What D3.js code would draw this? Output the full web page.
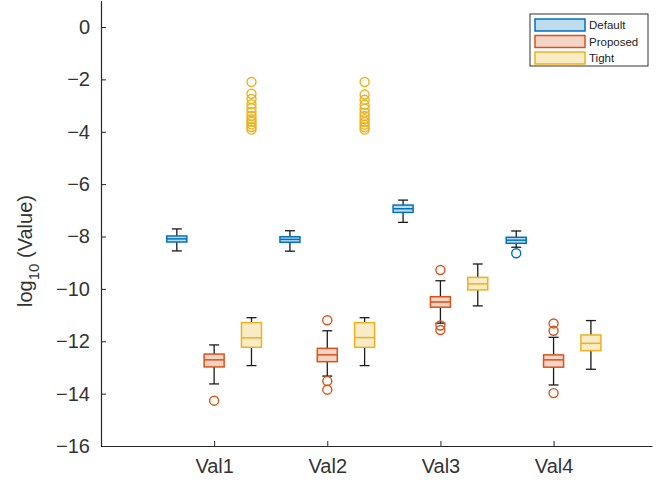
<!DOCTYPE html>
<html>
<head>
<meta charset="utf-8">
<script src="https://cdn.jsdelivr.net/npm/d3@7"></script>
<style>
  html, body { margin: 0; padding: 0; background: #fff; }
  svg { display: block; font-family: "Liberation Sans", Arial, sans-serif; }
</style>
</head>
<body>
<svg id="chart" width="660" height="487"></svg>
<script>
// Categories and series
const categories = ["Val1", "Val2", "Val3", "Val4"];
const seriesNames = ["Default", "Proposed", "Tight"];
const yTicks = [0, -2, -4, -6, -8, -10, -12, -14, -16];

// Box statistics per category: [lower whisker, Q1, median, Q3, upper whisker]
const defaultStats = [
  [-8.55, -8.21, -8.09, -7.98, -7.71],
  [-8.56, -8.22, -8.11, -8.01, -7.78],
  [-7.46, -7.08, -6.94, -6.80, -6.61],
  [-8.41, -8.26, -8.14, -8.03, -7.79]
];
const proposedStats = [
  [-13.63, -12.98, -12.71, -12.49, -12.14],
  [-13.33, -12.78, -12.52, -12.27, -11.60],
  [-11.31, -10.70, -10.50, -10.30, -9.69],
  [-13.67, -12.99, -12.71, -12.52, -11.85]
];
const tightStats = [
  [-12.93, -12.23, -11.87, -11.29, -11.10],
  [-12.93, -12.23, -11.86, -11.29, -11.10],
  [-10.65, -10.04, -9.81, -9.56, -9.05],
  [-13.07, -12.36, -12.08, -11.76, -11.21]
];

// Outliers per category
const defaultOutliers = [[], [], [], [-8.64]];
const proposedOutliers = [
  [-14.27],
  [-11.20, -13.52, -13.85],
  [-9.28, -11.40, -11.57],
  [-11.32, -11.60, -13.98]
];
const tightOutliers = [
  [-2.10, -2.55, -2.75, -2.95, -3.10, -3.25, -3.40, -3.52, -3.62, -3.72, -3.82, -3.92],
  [-2.10, -2.58, -2.78, -2.97, -3.12, -3.27, -3.40, -3.52, -3.63, -3.73, -3.83, -3.92],
  [],
  []
];

const seriesStats = [defaultStats, proposedStats, tightStats];
const seriesOutliers = [defaultOutliers, proposedOutliers, tightOutliers];
const seriesColors = ["#0072BD", "#D95319", "#EDB120"];
const seriesOffsets = [-0.33, 0, 0.33];

const svg = d3.select("#chart");
const axisColor = "#262626";

const x = d3.scaleLinear().domain([0, 4.87]).range([101, 652]);
const y = d3.scaleLinear().domain([-16, 1]).range([446, 446 - 17 * 26.1875]);

const boxHalf = 10;   // half box width in px
const capHalf = 5;    // half whisker cap width in px

// Boxes
seriesNames.forEach((name, s) => {
  const color = seriesColors[s];
  const g = svg.append("g").attr("class", "series-" + name);
  categories.forEach((cat, i) => {
    const [lo, q1, med, q3, hi] = seriesStats[s][i];
    const cx = x(i + 1 + seriesOffsets[s]);
    // whiskers
    g.append("line").attr("x1", cx).attr("x2", cx).attr("y1", y(q3)).attr("y2", y(hi))
      .attr("stroke", "#1a1a1a").attr("stroke-width", 1.3);
    g.append("line").attr("x1", cx).attr("x2", cx).attr("y1", y(q1)).attr("y2", y(lo))
      .attr("stroke", "#1a1a1a").attr("stroke-width", 1.3);
    g.append("line").attr("x1", cx - capHalf).attr("x2", cx + capHalf).attr("y1", y(hi)).attr("y2", y(hi))
      .attr("stroke", "#1a1a1a").attr("stroke-width", 1.3);
    g.append("line").attr("x1", cx - capHalf).attr("x2", cx + capHalf).attr("y1", y(lo)).attr("y2", y(lo))
      .attr("stroke", "#1a1a1a").attr("stroke-width", 1.3);
    // box
    g.append("rect")
      .attr("x", cx - boxHalf).attr("width", boxHalf * 2)
      .attr("y", y(q3)).attr("height", y(q1) - y(q3))
      .attr("fill", color).attr("fill-opacity", 0.25)
      .attr("stroke", color).attr("stroke-width", 1.5);
    // median
    g.append("line").attr("x1", cx - boxHalf).attr("x2", cx + boxHalf)
      .attr("y1", y(med)).attr("y2", y(med))
      .attr("stroke", color).attr("stroke-width", 1.5);
    // outliers
    g.selectAll(null).data(seriesOutliers[s][i]).enter().append("circle")
      .attr("cx", cx).attr("cy", d => y(d)).attr("r", 4.5)
      .attr("fill", "none").attr("stroke", color).attr("stroke-width", 1.4);
  });
});

// Axes
const yAxis = d3.axisLeft(y).tickValues(yTicks).tickSizeInner(-5).tickSizeOuter(0)
  .tickFormat(d => d < 0 ? "\u2212" + Math.abs(d) : d);
const gy = svg.append("g").attr("transform", `translate(${x(0)},0)`).call(yAxis);
gy.select(".domain").attr("stroke", axisColor).attr("stroke-width", 1.2);
gy.selectAll(".tick line").attr("stroke", axisColor);
gy.selectAll(".tick text").attr("x", -11).attr("fill", "#333").attr("font-size", 20)
  .attr("font-family", "'Liberation Sans', Arial, sans-serif");

const xAxis = d3.axisBottom(x).tickValues([1, 2, 3, 4]).tickSizeInner(-5).tickSizeOuter(0)
  .tickFormat((d, i) => categories[i]);
const gx = svg.append("g").attr("transform", `translate(0,${y(-16)})`).call(xAxis);
gx.select(".domain").attr("stroke", axisColor).attr("stroke-width", 1.2);
gx.selectAll(".tick line").attr("stroke", axisColor);
gx.selectAll(".tick text").attr("y", 13).attr("fill", "#333").attr("font-size", 20)
  .attr("font-family", "'Liberation Sans', Arial, sans-serif");

// Y axis label
const yl = svg.append("text")
  .attr("transform", "translate(32,251) rotate(-90)")
  .attr("text-anchor", "middle").attr("fill", "#333").attr("font-size", 20);
yl.append("tspan").text("log");
yl.append("tspan").attr("dy", 7).attr("font-size", 15).text("10");
yl.append("tspan").attr("dy", -7).text(" (Value)");

// Legend
const legend = svg.append("g").attr("class", "legend");
legend.append("rect").attr("x", 530).attr("y", 14).attr("width", 118).attr("height", 52)
  .attr("fill", "#fff").attr("stroke", "#333").attr("stroke-width", 1);
seriesNames.forEach((name, s) => {
  const cy = 25 + s * 16.5;
  legend.append("rect").attr("x", 535).attr("y", cy - 6).attr("width", 50).attr("height", 12)
    .attr("fill", seriesColors[s]).attr("fill-opacity", 0.25)
    .attr("stroke", seriesColors[s]).attr("stroke-width", 1.5);
  legend.append("text").attr("x", 589).attr("y", cy + 4).attr("font-size", 11.5)
    .attr("fill", "#222").text(name);
});
</script>
</body>
</html>
